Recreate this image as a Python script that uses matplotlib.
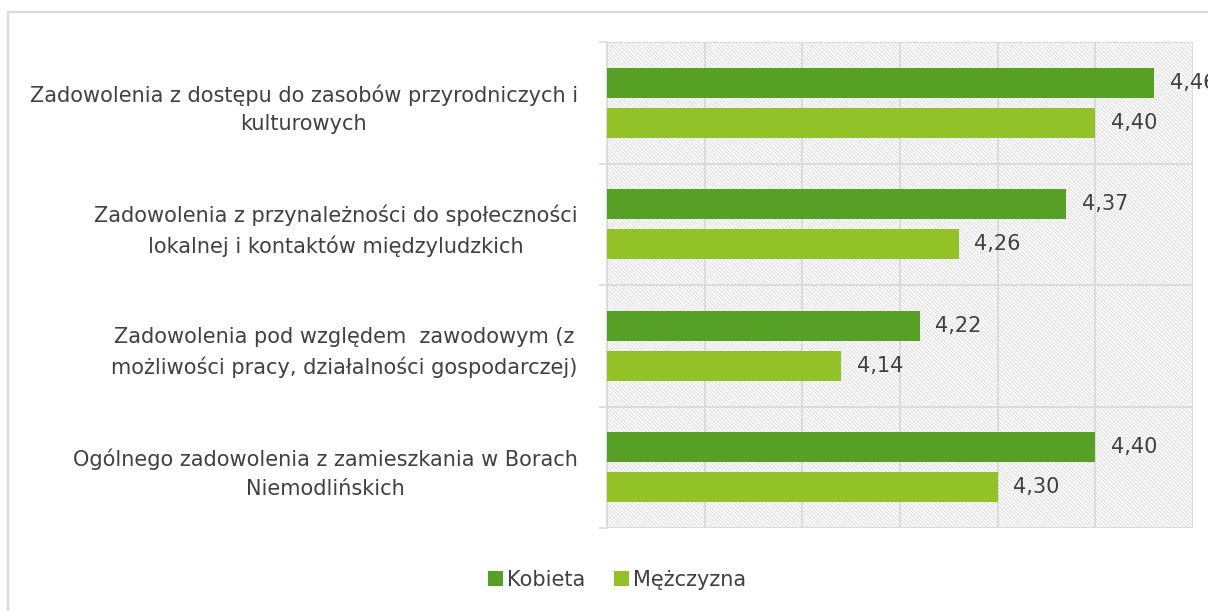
import numpy as np
import matplotlib.pyplot as plt
import matplotlib
from matplotlib.patches import Rectangle

categories = ["Zadowolenia z dostępu do zasobów przyrodniczych i\nkulturowych",
              "Zadowolenia z przynależności do społeczności\nlokalnej i kontaktów międzyludzkich",
              "Zadowolenia pod względem  zawodowym (z\nmożliwości pracy, działalności gospodarczej)",
              "Ogólnego zadowolenia z zamieszkania w Borach\nNiemodlińskich"]
kobieta = [4.46, 4.37, 4.22, 4.40]
mezczyzna = [4.40, 4.26, 4.14, 4.30]
series_names = ["Kobieta", "Mężczyzna"]


def fmt(v):
    return f"{v:.2f}".replace(".", ",")


matplotlib.rcParams['hatch.linewidth'] = 0.7
text_color = "#404040"
grid_color = "#d9d9d9"
hatch_color = "#dcdcdc"
dark_green = "#55a025"
light_green = "#92c128"
fs = 15

fig = plt.figure(figsize=(12.08, 6.11), dpi=100)
ax = fig.add_axes([607 / 1208, 1 - 528 / 611, (1193 - 607) / 1208, (528 - 42) / 611])

# outer chart border
fig.patches.append(Rectangle((8 / 1208, -0.1), 1.2, 1 - 12 / 611 + 0.1, transform=fig.transFigure,
                             fill=False, edgecolor=grid_color, linewidth=1.6))

y = np.arange(len(categories))
bar_h = 0.25
offset = 0.165

# hatched plot background
ax.add_patch(Rectangle((0, 0), 1, 1, transform=ax.transAxes, facecolor="white",
                       edgecolor=hatch_color, linewidth=0, hatch="\\" * 9, zorder=0))

b1 = ax.barh(y - offset, kobieta, bar_h, color=dark_green, label=series_names[0], zorder=3)
b2 = ax.barh(y + offset, mezczyzna, bar_h, color=light_green, label=series_names[1], zorder=3)

for bars, vals in ((b1, kobieta), (b2, mezczyzna)):
    for rect, v in zip(bars, vals):
        ax.text(v + 0.016, rect.get_y() + rect.get_height() / 2, fmt(v), va="center", ha="left",
                fontsize=fs, color=text_color, clip_on=False)

ax.set_xlim(3.9, 4.5)
ax.set_ylim(len(categories) - 0.5, -0.5)
ax.set_xticks(np.arange(3.9, 4.51, 0.1))
ax.set_xticklabels([])
ax.tick_params(axis="x", length=0)

ax.set_yticks(y)
ax.set_yticklabels(categories, fontsize=fs, color=text_color, multialignment="center",
                   linespacing=1.55)
ax.set_yticks(np.arange(-0.5, len(categories), 1.0), minor=True)
ax.tick_params(axis="y", which="major", length=0, pad=21)
ax.tick_params(axis="y", which="minor", length=6, color=grid_color, width=1.2)

# grid sits above the hatch but below the bars
ax.set_axisbelow(False)
ax.grid(axis="x", which="major", color=grid_color, linewidth=1.3)
ax.grid(axis="y", which="minor", color=grid_color, linewidth=1.3)

for s in ("top", "right", "bottom"):
    ax.spines[s].set_visible(False)
ax.spines["left"].set_color(grid_color)
ax.spines["left"].set_linewidth(1.2)

leg = fig.legend(handles=[b1, b2], loc="center", bbox_to_anchor=(617 / 1208, 1 - 580 / 611),
                 ncol=2, frameon=False, fontsize=fs, handlelength=0.7, handleheight=0.7,
                 handletextpad=0.2, columnspacing=1.4)
for t in leg.get_texts():
    t.set_color(text_color)

plt.savefig("out.png", dpi=100)
